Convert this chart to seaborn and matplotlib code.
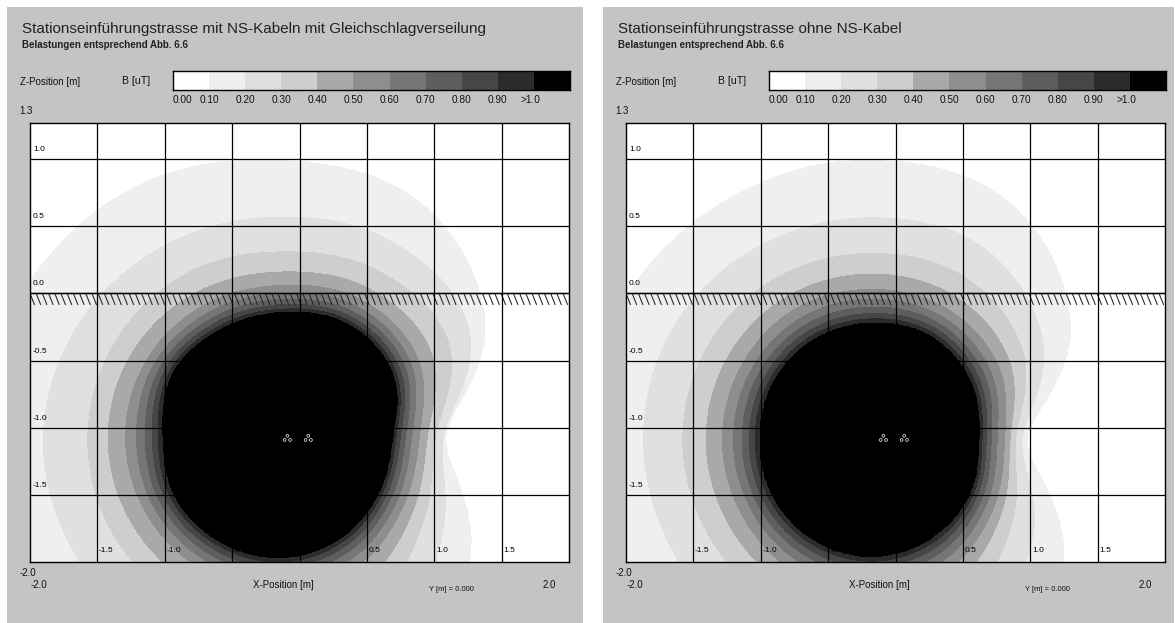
import numpy as np
import matplotlib
matplotlib.use("Agg")
import matplotlib.pyplot as plt
import seaborn as sns
from matplotlib.collections import LineCollection
from matplotlib.colors import ListedColormap
from matplotlib.patches import Rectangle

sns.set_theme(style="white")
plt.rcParams["font.family"] = ["Liberation Sans", "DejaVu Sans"]

# ---------------------------------------------------------------- data
titles = ["Stationseinführungstrasse mit NS-Kabeln mit Gleichschlagverseilung",
          "Stationseinführungstrasse ohne NS-Kabel"]
subtitle = "Belastungen entsprechend Abb. 6.6"

band_edges = [0.0, 0.1, 0.2, 0.3, 0.4, 0.5, 0.6, 0.7, 0.8, 0.9, 1.0]
band_labels = ["0.00", "0.10", "0.20", "0.30", "0.40", "0.50",
               "0.60", "0.70", "0.80", "0.90", ">1.0"]
band_colors = ["#ffffff", "#efefef", "#e0e0e0", "#cecece", "#a9a9a9", "#8e8e8e",
               "#767676", "#5e5e5e", "#464646", "#2c2c2c", "#000000"]

grid_ticks = [-1.5, -1.0, -0.5, 0.0, 0.5, 1.0, 1.5]
z_ticks = [1.0, 0.5, 0.0, -0.5, -1.0, -1.5]

# cable systems (x positions, common depth) in m
cable_x = [-0.09, 0.065]
cable_z = -1.08

# iso-line radii [m] of B around the field centre, per direction (deg, ccw from +x)
directions = [0, 30, 60, 90, 120, 150, 180, 210, 240, 270, 300, 330]
iso_levels = [1.0, 0.5, 0.4, 0.3, 0.2, 0.1]

centre_mit = (-0.13, -1.06)
iso_mit_10 = [0.82, 0.94, 0.96, 0.915, 0.91, 0.93, 0.88, 0.91, 0.91, 0.905, 0.873, 0.83]
iso_mit_05 = [1.02, 1.16, 1.17, 1.12, 1.13, 1.15, 1.16, 1.16, 1.16, 1.16, 1.12, 1.04]
iso_mit_04 = [1.08, 1.27, 1.27, 1.22, 1.24, 1.27, 1.29, 1.29, 1.29, 1.29, 1.24, 1.12]
iso_mit_03 = [1.14, 1.42, 1.42, 1.37, 1.40, 1.42, 1.44, 1.45, 1.45, 1.45, 1.40, 1.22]
iso_mit_02 = [1.20, 1.60, 1.66, 1.63, 1.66, 1.72, 1.77, 1.77, 1.78, 1.78, 1.70, 1.38]
iso_mit_01 = [1.22, 1.74, 2.02, 2.055, 2.15, 2.20, 2.25, 2.25, 2.25, 2.25, 2.10, 1.62]

centre_ohne = (-0.19, -1.09)
iso_ohne_10 = [0.805, 0.86, 0.89, 0.866, 0.85, 0.83, 0.813, 0.83, 0.85, 0.865, 0.86, 0.84]
iso_ohne_05 = [1.00, 1.10, 1.13, 1.12, 1.12, 1.10, 1.094, 1.10, 1.13, 1.15, 1.13, 1.05]
iso_ohne_04 = [1.04, 1.19, 1.24, 1.234, 1.23, 1.22, 1.214, 1.22, 1.25, 1.27, 1.24, 1.12]
iso_ohne_03 = [1.08, 1.31, 1.40, 1.388, 1.39, 1.39, 1.388, 1.39, 1.42, 1.45, 1.40, 1.22]
iso_ohne_02 = [1.13, 1.48, 1.66, 1.654, 1.66, 1.68, 1.68, 1.68, 1.72, 1.75, 1.65, 1.40]
iso_ohne_01 = [1.17, 1.72, 2.05, 2.085, 2.08, 2.10, 2.15, 2.15, 2.20, 2.25, 2.10, 1.66]

panels = [
    dict(title=titles[0], centre=centre_mit,
         iso=[iso_mit_10, iso_mit_05, iso_mit_04, iso_mit_03, iso_mit_02, iso_mit_01], shift=0),
    dict(title=titles[1], centre=centre_ohne,
         iso=[iso_ohne_10, iso_ohne_05, iso_ohne_04, iso_ohne_03, iso_ohne_02, iso_ohne_01], shift=596),
]

X_LIM = (-2.0, 2.0)
Z_LIM = (-2.0, 1.27)

# ---------------------------------------------------------------- helpers
W, H = 1175, 623


def fx(px):
    return px / W


def fy(py):
    return 1.0 - py / H


def periodic_spline(theta, vals):
    """Catmull-Rom curve through the per-direction values, closed over 360 deg."""
    v = np.asarray(vals, dtype=float)
    n = len(v)
    u = theta / (360.0 / n)
    i = np.floor(u).astype(int) % n
    t = u - np.floor(u)
    p0, p1, p2, p3 = v[(i - 1) % n], v[i], v[(i + 1) % n], v[(i + 2) % n]
    return 0.5 * (2 * p1 + (-p0 + p2) * t + (2 * p0 - 5 * p1 + 4 * p2 - p3) * t ** 2
                  + (-p0 + 3 * p1 - 3 * p2 + p3) * t ** 3)


def flux_density(xg, zg, centre, iso):
    dx, dz = xg - centre[0], zg - centre[1]
    r = np.hypot(dx, dz)
    th = np.degrees(np.arctan2(dz, dx)) % 360.0
    R = np.log(np.stack([periodic_spline(th, row) for row in iso]))
    lr = np.log(np.maximum(r, 1e-6))
    lL = np.log(iso_levels)
    B = np.full(r.shape, 0.05)
    B[lr < R[0]] = 2.0
    for k in range(len(iso_levels) - 1):
        m = (lr >= R[k]) & (lr < R[k + 1])
        t = (lr[m] - R[k][m]) / (R[k + 1][m] - R[k][m])
        B[m] = np.exp(lL[k] + t * (lL[k + 1] - lL[k]))
    return B


# ---------------------------------------------------------------- figure
fig = plt.figure(figsize=(W / 100, H / 100), dpi=100)
fig.patch.set_facecolor("white")
panel_grey = "#c4c4c4"
ink = "#111111"
small = dict(fontsize=7, color=ink)

xs = np.linspace(*X_LIM, 700)
zs = np.linspace(*Z_LIM, 600)
XG, ZG = np.meshgrid(xs, zs)

for p in panels:
    s = p["shift"]
    fig.add_artist(Rectangle((fx(7 + s), 0), fx(576 if s == 0 else 571), fy(7),
                             transform=fig.transFigure, facecolor=panel_grey,
                             edgecolor="none", zorder=-10))

    # headings
    fig.text(fx(22 + s), fy(33), p["title"], fontsize=11.0, color="#222222", va="baseline")
    fig.text(fx(22 + s), fy(47.5), subtitle, fontsize=7.0, fontweight="bold",
             color="#222222", va="baseline")
    fig.text(fx(20 + s), fy(85), "Z-Position [m]", va="baseline", **small)
    fig.text(fx(122 + s), fy(84), "B [uT]", va="baseline", fontsize=7.6, color=ink)
    fig.text(fx(19 + s), fy(113.5), "1.3", va="baseline", **small)
    fig.text(fx(20 + s), fy(576), "-2.0", va="baseline", **small)
    fig.text(fx(31 + s), fy(588), "-2.0", va="baseline", **small)
    fig.text(fx(283 + s), fy(588), "X-Position [m]", ha="center", va="baseline", **small)
    fig.text(fx(451 + s), fy(591), "Y [m] = 0.000", ha="center", va="baseline",
             fontsize=5.5, color=ink)
    fig.text(fx(549 + s), fy(588), "2.0", ha="center", va="baseline", **small)

    # colour key
    cax = fig.add_axes([fx(173 + s), fy(90), 397 / W, 19 / H])
    sns.heatmap(np.arange(len(band_colors))[None, :], cmap=ListedColormap(band_colors),
                cbar=False, ax=cax, xticklabels=False, yticklabels=False, linewidths=0)
    for sp in cax.spines.values():
        sp.set_visible(True)
        sp.set_color("black")
        sp.set_linewidth(1.0)
    for i, lab in enumerate(band_labels):
        if i == 0:
            cax.text(0.0, 1.68, lab, ha="left", va="baseline", fontsize=7.3, color=ink)
        else:
            cax.text(i - (0.1 if i == 10 else 0.0), 1.68, lab, ha="center",
                     va="baseline", fontsize=7.3, color=ink)

    # field map
    ax = fig.add_axes([fx(30 + s), fy(562), 539 / W, 439 / H])
    B = flux_density(XG, ZG, p["centre"], p["iso"])
    ax.contourf(XG, ZG, B, levels=band_edges + [100.0], colors=band_colors)
    ax.set_xlim(*X_LIM)
    ax.set_ylim(*Z_LIM)
    ax.set_xticks(grid_ticks)
    ax.set_yticks(z_ticks)
    ax.grid(True, color="black", linewidth=0.9)
    ax.set_axisbelow(False)
    ax.tick_params(labelbottom=False, labelleft=False, length=0)
    for sp in ax.spines.values():
        sp.set_color("black")
        sp.set_linewidth(1.0)

    # ground surface with hatching
    ax.axhline(0.0, color="black", linewidth=1.0)
    hx = np.arange(X_LIM[0], X_LIM[1], 0.046)
    segs = [[(x0, 0.0), (x0 + 0.034, -0.085)] for x0 in hx]
    ax.add_collection(LineCollection(segs, colors="#222222", linewidths=0.75))

    # grid labels inside the map
    for zt in z_ticks:
        ax.text(-1.978, zt + 0.045, f"{zt:.1f}", fontsize=6, color="black",
                ha="left", va="bottom")
    for xt in grid_ticks:
        ax.text(xt + 0.012, -2.0 + 0.06, f"{xt:.1f}", fontsize=6, color="black",
                ha="left", va="bottom")

    # conductors in trefoil arrangement
    tre_dx = np.array([0.0, -0.02, 0.02])
    tre_dz = np.array([0.02, -0.011, -0.011])
    for cx in cable_x:
        ax.scatter(cx + tre_dx, cable_z + tre_dz, s=4, facecolors="none",
                   edgecolors="white", linewidths=0.5, zorder=5)

fig.savefig("out.png", dpi=100, facecolor=fig.get_facecolor())
